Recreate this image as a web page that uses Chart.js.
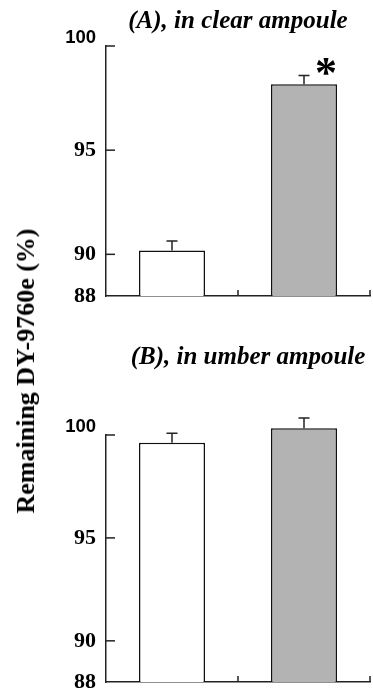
<!DOCTYPE html>
<html>
<head>
<meta charset="utf-8">
<script src="https://cdn.jsdelivr.net/npm/chart.js@4.4.0/dist/chart.umd.min.js"></script>
<style>
body { margin: 0; background: #fff; }
#wrap { position: relative; width: 373px; height: 693px; }
#a { position: absolute; left: 0; top: 0; }
#b { position: absolute; left: 0; top: 320px; }
#ylab {
    position: absolute; left: 26px; top: 371px;
    transform: translate(-50%, -50%) rotate(-90deg);
    font: bold 26px "Liberation Serif", "Times New Roman", serif;
    white-space: nowrap; color: #000;
}
</style>
</head>
<body>
<div id="wrap">
    <canvas id="a" width="373" height="320"></canvas>
    <canvas id="b" width="373" height="373"></canvas>
    <div id="ylab">Remaining DY-9760e (%)</div>
</div>
<script>
const groups = ['Group 1', 'Group 2'];
const yTicks = [88, 90, 95, 100];
const clearMeans = [90.19, 98.16];
const clearErrors = [0.45, 0.43];
const clearMarks = ['', '*'];
const umberMeans = [99.62, 100.33];
const umberErrors = [0.46, 0.49];
const umberMarks = ['', ''];
const barColors = ['#ffffff', '#b3b3b3'];

// ticks pointing inward, error bars, asterisk and panel title
const deco = {
    id: 'deco',
    afterDraw(chart, args, opts) {
        const ctx = chart.ctx;
        const area = chart.chartArea;
        const x = chart.scales.x, y = chart.scales.y;
        ctx.save();
        ctx.strokeStyle = '#222';
        ctx.lineWidth = 1.5;
        yTicks.forEach(function (v) {
            if (v === y.min) return;
            const py = y.getPixelForValue(v);
            ctx.beginPath();
            ctx.moveTo(area.left, py);
            ctx.lineTo(area.left + 9, py);
            ctx.stroke();
        });
        const mid = (x.getPixelForValue(0) + x.getPixelForValue(1)) / 2;
        [mid, area.right].forEach(function (px) {
            ctx.beginPath();
            ctx.moveTo(px, area.bottom);
            ctx.lineTo(px, area.bottom - 6);
            ctx.stroke();
        });

        const meta = chart.getDatasetMeta(0);
        meta.data.forEach(function (bar, i) {
            const top = y.getPixelForValue(opts.means[i] + opts.errors[i]);
            ctx.beginPath();
            ctx.moveTo(bar.x, bar.y);
            ctx.lineTo(bar.x, top);
            ctx.moveTo(bar.x - 5.5, top);
            ctx.lineTo(bar.x + 5.5, top);
            ctx.stroke();
            if (opts.marks[i]) {
                ctx.fillStyle = '#000';
                ctx.font = 'bold 44px "Liberation Serif", serif';
                ctx.textAlign = 'center';
                ctx.textBaseline = 'middle';
                ctx.fillText(opts.marks[i], bar.x + 22, top);
            }
        });

        ctx.fillStyle = '#000';
        ctx.font = 'italic bold 25px "Liberation Serif", serif';
        ctx.textAlign = 'center';
        ctx.textBaseline = 'alphabetic';
        ctx.fillText(opts.title, (area.left + area.right) / 2 + opts.titleShift, opts.titleY);
        ctx.restore();
    }
};

function makePanel(id, means, errors, marks, title, titleY, titleShift, padding) {
    return new Chart(document.getElementById(id), {
        type: 'bar',
        data: {
            labels: groups,
            datasets: [{
                data: means,
                base: 88,
                backgroundColor: barColors,
                borderColor: '#111',
                borderWidth: 1.5,
                barPercentage: 0.5,
                categoryPercentage: 1.0,
                clip: false
            }]
        },
        options: {
            responsive: false,
            animation: false,
            layout: { padding: padding },
            plugins: {
                legend: { display: false },
                tooltip: { enabled: false },
                deco: { means: means, errors: errors, marks: marks, title: title, titleY: titleY, titleShift: titleShift }
            },
            scales: {
                x: {
                    grid: { display: false, drawTicks: false },
                    ticks: { display: false },
                    border: { display: true, color: '#222', width: 1.5 },
                    afterFit: function (scale) { scale.height = 0; }
                },
                y: {
                    min: 88,
                    max: 100,
                    grid: { display: false, drawTicks: false },
                    border: { display: true, color: '#222', width: 1.5 },
                    afterBuildTicks: function (scale) {
                        scale.ticks = yTicks.map(function (v) { return { value: v }; });
                    },
                    afterFit: function (scale) {
                        scale.width = 106;
                        scale.paddingTop = 0;
                        scale.paddingBottom = 0;
                    },
                    ticks: {
                        padding: 10,
                        color: '#000',
                        callback: function (v) { return v === 100 ? ['100', ''] : String(v); },
                        font: function (c) {
                            if (c.tick && c.tick.value === 100) {
                                return { family: '"Liberation Sans", Arial, sans-serif', weight: 'bold', size: 18.5, lineHeight: '16px' };
                            }
                            return { family: '"Liberation Serif", "Times New Roman", serif', weight: 'bold', size: 22 };
                        }
                    }
                }
            }
        },
        plugins: [deco]
    });
}

makePanel('a', clearMeans, clearErrors, clearMarks, '(A), in clear ampoule', 28, 0,
    { top: 46, right: 3, bottom: 24, left: 0 });
makePanel('b', umberMeans, umberErrors, umberMarks, '(B), in umber ampoule', 44, 10,
    { top: 115, right: 3, bottom: 11, left: 0 });
</script>
</body>
</html>
